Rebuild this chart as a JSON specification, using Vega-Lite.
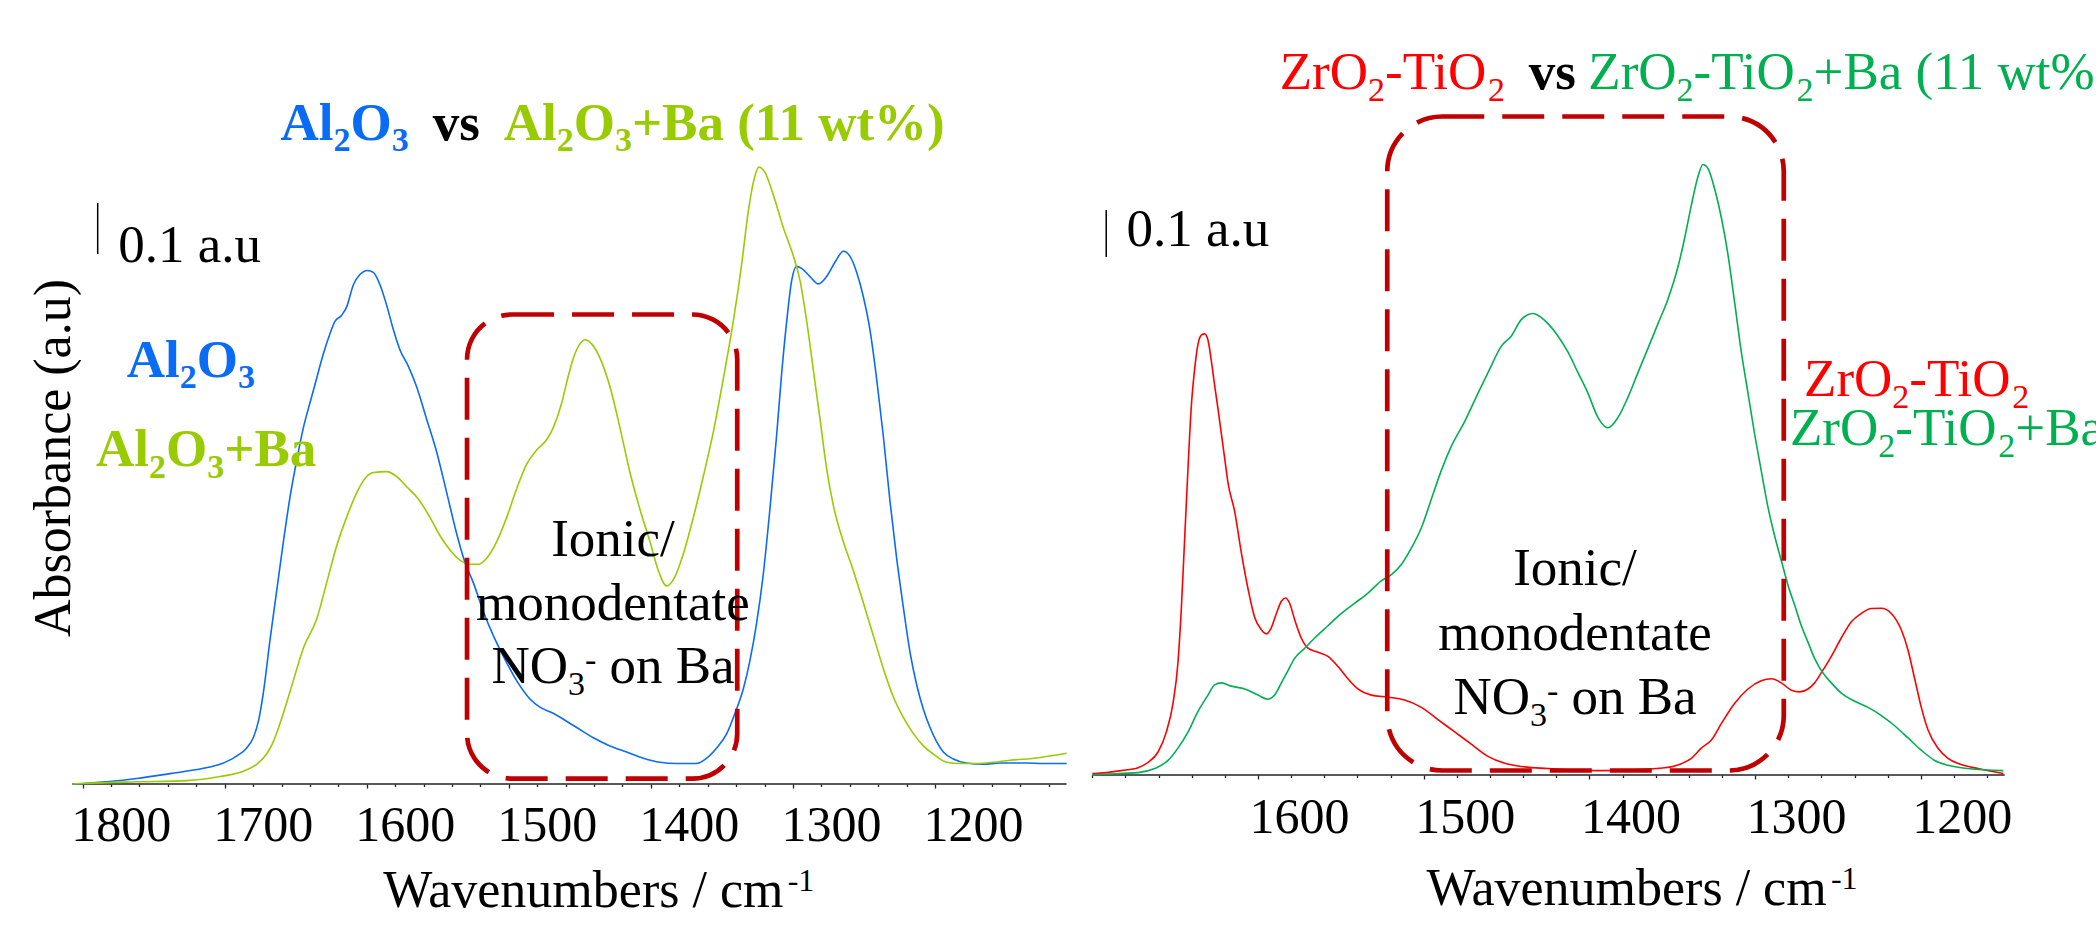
{
"$schema": "https://vega.github.io/schema/vega-lite/v6.json",
"padding": 0,
"autosize": {"type": "pad"},
"spacing": 0,
"background": "white",
"config": {"view": {"stroke": null}, "font": "Liberation Serif"},
"datasets": {
"curvesL": [
{"series":"Al2O3","w":1807,"a":0.0},{"series":"Al2O3","w":1799.5,"a":0.001},{"series":"Al2O3","w":1762.0,"a":0.0107},{"series":"Al2O3","w":1738.5,"a":0.0203},{"series":"Al2O3","w":1715.0,"a":0.0307},{"series":"Al2O3","w":1703.3,"a":0.0387},{"series":"Al2O3","w":1691.6,"a":0.0547},{"series":"Al2O3","w":1684.5,"a":0.0707},{"series":"Al2O3","w":1679.9,"a":0.0907},{"series":"Al2O3","w":1676.3,"a":0.1227},{"series":"Al2O3","w":1672.8,"a":0.1787},{"series":"Al2O3","w":1668.1,"a":0.2828},{"series":"Al2O3","w":1663.4,"a":0.3788},{"series":"Al2O3","w":1658.7,"a":0.4748},{"series":"Al2O3","w":1654.0,"a":0.5629},{"series":"Al2O3","w":1649.3,"a":0.6349},{"series":"Al2O3","w":1644.6,"a":0.6989},{"series":"Al2O3","w":1640.0,"a":0.7469},{"series":"Al2O3","w":1635.3,"a":0.7950},{"series":"Al2O3","w":1630.6,"a":0.8430},{"series":"Al2O3","w":1625.9,"a":0.8830},{"series":"Al2O3","w":1622.4,"a":0.9070},{"series":"Al2O3","w":1617.7,"a":0.9190},{"series":"Al2O3","w":1614.2,"a":0.9350},{"series":"Al2O3","w":1609.4,"a":0.9790},{"series":"Al2O3","w":1604.8,"a":0.9990},{"series":"Al2O3","w":1599.4,"a":1.0070},{"series":"Al2O3","w":1595.4,"a":1.0030},{"series":"Al2O3","w":1590.7,"a":0.9790},{"series":"Al2O3","w":1586.0,"a":0.9390},{"series":"Al2O3","w":1581.3,"a":0.8910},{"series":"Al2O3","w":1576.6,"a":0.8510},{"series":"Al2O3","w":1570.7,"a":0.8190},{"series":"Al2O3","w":1564.9,"a":0.7790},{"series":"Al2O3","w":1557.8,"a":0.7149},{"series":"Al2O3","w":1550.8,"a":0.6509},{"series":"Al2O3","w":1543.7,"a":0.5709},{"series":"Al2O3","w":1536.7,"a":0.4908},{"series":"Al2O3","w":1530.9,"a":0.4348},{"series":"Al2O3","w":1525.0,"a":0.3948},{"series":"Al2O3","w":1518.0,"a":0.3388},{"series":"Al2O3","w":1510.9,"a":0.2908},{"series":"Al2O3","w":1503.9,"a":0.2507},{"series":"Al2O3","w":1494.5,"a":0.2027},{"series":"Al2O3","w":1485.1,"a":0.1667},{"series":"Al2O3","w":1478.1,"a":0.1507},{"series":"Al2O3","w":1468.7,"a":0.1387},{"series":"Al2O3","w":1456.9,"a":0.1187},{"series":"Al2O3","w":1452.2,"a":0.1107},{"series":"Al2O3","w":1440.5,"a":0.0907},{"series":"Al2O3","w":1428.8,"a":0.0747},{"series":"Al2O3","w":1417.0,"a":0.0627},{"series":"Al2O3","w":1405.3,"a":0.0507},{"series":"Al2O3","w":1393.6,"a":0.0427},{"series":"Al2O3","w":1381.9,"a":0.0403},{"series":"Al2O3","w":1367.8,"a":0.0403},{"series":"Al2O3","w":1360.7,"a":0.0507},{"series":"Al2O3","w":1353.7,"a":0.0707},{"series":"Al2O3","w":1346.6,"a":0.0987},{"series":"Al2O3","w":1340.8,"a":0.1387},{"series":"Al2O3","w":1334.9,"a":0.1867},{"series":"Al2O3","w":1330.2,"a":0.2428},{"series":"Al2O3","w":1325.6,"a":0.3148},{"series":"Al2O3","w":1320.9,"a":0.4108},{"series":"Al2O3","w":1316.2,"a":0.5389},{"series":"Al2O3","w":1311.5,"a":0.6829},{"series":"Al2O3","w":1308.0,"a":0.8030},{"series":"Al2O3","w":1304.4,"a":0.9070},{"series":"Al2O3","w":1300.9,"a":0.9870},{"series":"Al2O3","w":1297.4,"a":1.0150},{"series":"Al2O3","w":1293.9,"a":1.0110},{"series":"Al2O3","w":1288.0,"a":0.9950},{"series":"Al2O3","w":1282.1,"a":0.9806},{"series":"Al2O3","w":1276.3,"a":0.9950},{"series":"Al2O3","w":1270.4,"a":1.0230},{"series":"Al2O3","w":1264.5,"a":1.0447},{"series":"Al2O3","w":1259.9,"a":1.0351},{"series":"Al2O3","w":1255.1,"a":1.0030},{"series":"Al2O3","w":1250.4,"a":0.9550},{"series":"Al2O3","w":1245.8,"a":0.8910},{"series":"Al2O3","w":1241.1,"a":0.7950},{"series":"Al2O3","w":1236.4,"a":0.6829},{"series":"Al2O3","w":1231.7,"a":0.5549},{"series":"Al2O3","w":1227.0,"a":0.4428},{"series":"Al2O3","w":1222.3,"a":0.3468},{"series":"Al2O3","w":1217.6,"a":0.2588},{"series":"Al2O3","w":1212.9,"a":0.1947},{"series":"Al2O3","w":1208.2,"a":0.1467},{"series":"Al2O3","w":1203.5,"a":0.1107},{"series":"Al2O3","w":1198.8,"a":0.0827},{"series":"Al2O3","w":1194.1,"a":0.0627},{"series":"Al2O3","w":1187.1,"a":0.0491},{"series":"Al2O3","w":1177.7,"a":0.0411},{"series":"Al2O3","w":1166.0,"a":0.0387},{"series":"Al2O3","w":1154.2,"a":0.0411},{"series":"Al2O3","w":1135.5,"a":0.0411},{"series":"Al2O3","w":1123.7,"a":0.0403},{"series":"Al2O3","w":1107.3,"a":0.0403},
{"series":"Al2O3+Ba","w":1807,"a":0.0},{"series":"Al2O3+Ba","w":1799.5,"a":0.001},{"series":"Al2O3+Ba","w":1762.0,"a":0.0043},{"series":"Al2O3+Ba","w":1726.8,"a":0.0067},{"series":"Al2O3+Ba","w":1703.3,"a":0.0147},{"series":"Al2O3+Ba","w":1686.9,"a":0.0251},{"series":"Al2O3+Ba","w":1677.5,"a":0.0387},{"series":"Al2O3+Ba","w":1670.5,"a":0.0587},{"series":"Al2O3+Ba","w":1665.8,"a":0.0827},{"series":"Al2O3+Ba","w":1658.7,"a":0.1387},{"series":"Al2O3+Ba","w":1651.7,"a":0.2027},{"series":"Al2O3+Ba","w":1644.6,"a":0.2668},{"series":"Al2O3+Ba","w":1635.3,"a":0.3228},{"series":"Al2O3+Ba","w":1628.2,"a":0.3948},{"series":"Al2O3+Ba","w":1621.2,"a":0.4668},{"series":"Al2O3+Ba","w":1614.2,"a":0.5228},{"series":"Al2O3+Ba","w":1607.1,"a":0.5709},{"series":"Al2O3+Ba","w":1600.1,"a":0.6029},{"series":"Al2O3+Ba","w":1595.4,"a":0.6109},{"series":"Al2O3+Ba","w":1586.0,"a":0.6125},{"series":"Al2O3+Ba","w":1578.9,"a":0.6029},{"series":"Al2O3+Ba","w":1571.9,"a":0.5829},{"series":"Al2O3+Ba","w":1563.7,"a":0.5589},{"series":"Al2O3+Ba","w":1555.5,"a":0.5228},{"series":"Al2O3+Ba","w":1548.4,"a":0.4868},{"series":"Al2O3+Ba","w":1541.4,"a":0.4588},{"series":"Al2O3+Ba","w":1534.4,"a":0.4388},{"series":"Al2O3+Ba","w":1527.3,"a":0.4308},{"series":"Al2O3+Ba","w":1521.5,"a":0.4308},{"series":"Al2O3+Ba","w":1515.6,"a":0.4428},{"series":"Al2O3+Ba","w":1508.6,"a":0.4748},{"series":"Al2O3+Ba","w":1501.5,"a":0.5228},{"series":"Al2O3+Ba","w":1494.5,"a":0.5789},{"series":"Al2O3+Ba","w":1487.5,"a":0.6269},{"series":"Al2O3+Ba","w":1480.4,"a":0.6549},{"series":"Al2O3+Ba","w":1473.4,"a":0.6749},{"series":"Al2O3+Ba","w":1468.7,"a":0.6989},{"series":"Al2O3+Ba","w":1462.8,"a":0.7469},{"series":"Al2O3+Ba","w":1459.3,"a":0.7870},{"series":"Al2O3+Ba","w":1454.6,"a":0.8350},{"series":"Al2O3+Ba","w":1449.9,"a":0.8630},{"series":"Al2O3+Ba","w":1446.4,"a":0.8710},{"series":"Al2O3+Ba","w":1441.7,"a":0.8630},{"series":"Al2O3+Ba","w":1435.8,"a":0.8350},{"series":"Al2O3+Ba","w":1428.8,"a":0.7790},{"series":"Al2O3+Ba","w":1421.8,"a":0.6989},{"series":"Al2O3+Ba","w":1414.7,"a":0.6109},{"series":"Al2O3+Ba","w":1407.7,"a":0.5389},{"series":"Al2O3+Ba","w":1400.6,"a":0.4748},{"series":"Al2O3+Ba","w":1394.8,"a":0.4188},{"series":"Al2O3+Ba","w":1388.9,"a":0.3884},{"series":"Al2O3+Ba","w":1383.0,"a":0.4068},{"series":"Al2O3+Ba","w":1377.2,"a":0.4508},{"series":"Al2O3+Ba","w":1370.1,"a":0.5228},{"series":"Al2O3+Ba","w":1363.1,"a":0.6029},{"series":"Al2O3+Ba","w":1356.0,"a":0.6909},{"series":"Al2O3+Ba","w":1349.0,"a":0.7950},{"series":"Al2O3+Ba","w":1342.0,"a":0.9070},{"series":"Al2O3+Ba","w":1336.1,"a":1.0191},{"series":"Al2O3+Ba","w":1331.4,"a":1.1231},{"series":"Al2O3+Ba","w":1327.9,"a":1.1791},{"series":"Al2O3+Ba","w":1323.9,"a":1.2095},{"series":"Al2O3+Ba","w":1319.7,"a":1.1991},{"series":"Al2O3+Ba","w":1313.8,"a":1.1551},{"series":"Al2O3+Ba","w":1306.8,"a":1.0911},{"series":"Al2O3+Ba","w":1299.7,"a":1.0351},{"series":"Al2O3+Ba","w":1295.0,"a":0.9870},{"series":"Al2O3+Ba","w":1290.3,"a":0.9070},{"series":"Al2O3+Ba","w":1285.6,"a":0.8110},{"series":"Al2O3+Ba","w":1280.9,"a":0.7149},{"series":"Al2O3+Ba","w":1276.3,"a":0.6189},{"series":"Al2O3+Ba","w":1271.6,"a":0.5469},{"series":"Al2O3+Ba","w":1264.5,"a":0.4748},{"series":"Al2O3+Ba","w":1257.5,"a":0.4188},{"series":"Al2O3+Ba","w":1250.4,"a":0.3548},{"series":"Al2O3+Ba","w":1243.4,"a":0.2908},{"series":"Al2O3+Ba","w":1236.4,"a":0.2267},{"series":"Al2O3+Ba","w":1229.3,"a":0.1707},{"series":"Al2O3+Ba","w":1222.3,"a":0.1307},{"series":"Al2O3+Ba","w":1215.2,"a":0.0987},{"series":"Al2O3+Ba","w":1208.2,"a":0.0747},{"series":"Al2O3+Ba","w":1201.2,"a":0.0587},{"series":"Al2O3+Ba","w":1191.8,"a":0.0427},{"series":"Al2O3+Ba","w":1182.4,"a":0.0403},{"series":"Al2O3+Ba","w":1170.7,"a":0.0403},{"series":"Al2O3+Ba","w":1158.9,"a":0.0427},{"series":"Al2O3+Ba","w":1147.2,"a":0.0467},{"series":"Al2O3+Ba","w":1135.5,"a":0.0491},{"series":"Al2O3+Ba","w":1123.7,"a":0.0531},{"series":"Al2O3+Ba","w":1107.3,"a":0.0603}
],
"curvesR": [
{"series":"ZrO2-TiO2","w":1700,"a":0.003},{"series":"ZrO2-TiO2","w":1698.6,"a":0.0032},{"series":"ZrO2-TiO2","w":1682.5,"a":0.0093},{"series":"ZrO2-TiO2","w":1672.4,"a":0.0154},{"series":"ZrO2-TiO2","w":1666.4,"a":0.0267},{"series":"ZrO2-TiO2","w":1660.4,"a":0.0484},{"series":"ZrO2-TiO2","w":1655.3,"a":0.0918},{"series":"ZrO2-TiO2","w":1651.3,"a":0.1526},{"series":"ZrO2-TiO2","w":1648.3,"a":0.2394},{"series":"ZrO2-TiO2","w":1646.3,"a":0.3523},{"series":"ZrO2-TiO2","w":1644.3,"a":0.4999},{"series":"ZrO2-TiO2","w":1642.2,"a":0.6563},{"series":"ZrO2-TiO2","w":1640.2,"a":0.7866},{"series":"ZrO2-TiO2","w":1638.2,"a":0.8647},{"series":"ZrO2-TiO2","w":1636.2,"a":0.9168},{"series":"ZrO2-TiO2","w":1634.2,"a":0.9359},{"series":"ZrO2-TiO2","w":1632.2,"a":0.9385},{"series":"ZrO2-TiO2","w":1630.2,"a":0.9255},{"series":"ZrO2-TiO2","w":1628.2,"a":0.8821},{"series":"ZrO2-TiO2","w":1626.2,"a":0.8300},{"series":"ZrO2-TiO2","w":1624.1,"a":0.7779},{"series":"ZrO2-TiO2","w":1622.1,"a":0.7257},{"series":"ZrO2-TiO2","w":1620.1,"a":0.6737},{"series":"ZrO2-TiO2","w":1618.1,"a":0.6216},{"series":"ZrO2-TiO2","w":1614.1,"a":0.5608},{"series":"ZrO2-TiO2","w":1610.1,"a":0.4739},{"series":"ZrO2-TiO2","w":1606.0,"a":0.3957},{"series":"ZrO2-TiO2","w":1602.0,"a":0.3350},{"series":"ZrO2-TiO2","w":1598.0,"a":0.3089},{"series":"ZrO2-TiO2","w":1595.0,"a":0.3002},{"series":"ZrO2-TiO2","w":1592.0,"a":0.3132},{"series":"ZrO2-TiO2","w":1588.9,"a":0.3437},{"series":"ZrO2-TiO2","w":1585.9,"a":0.3697},{"series":"ZrO2-TiO2","w":1583.5,"a":0.3767},{"series":"ZrO2-TiO2","w":1580.9,"a":0.3654},{"series":"ZrO2-TiO2","w":1577.9,"a":0.3307},{"series":"ZrO2-TiO2","w":1573.9,"a":0.2915},{"series":"ZrO2-TiO2","w":1569.8,"a":0.2698},{"series":"ZrO2-TiO2","w":1563.8,"a":0.2611},{"series":"ZrO2-TiO2","w":1557.8,"a":0.2525},{"series":"ZrO2-TiO2","w":1551.7,"a":0.2308},{"series":"ZrO2-TiO2","w":1545.7,"a":0.2047},{"series":"ZrO2-TiO2","w":1539.7,"a":0.1830},{"series":"ZrO2-TiO2","w":1531.6,"a":0.1700},{"series":"ZrO2-TiO2","w":1521.5,"a":0.1656},{"series":"ZrO2-TiO2","w":1511.5,"a":0.1595},{"series":"ZrO2-TiO2","w":1501.4,"a":0.1439},{"series":"ZrO2-TiO2","w":1491.4,"a":0.1178},{"series":"ZrO2-TiO2","w":1481.3,"a":0.0918},{"series":"ZrO2-TiO2","w":1471.3,"a":0.0657},{"series":"ZrO2-TiO2","w":1461.2,"a":0.0397},{"series":"ZrO2-TiO2","w":1451.1,"a":0.0249},{"series":"ZrO2-TiO2","w":1441.1,"a":0.0180},{"series":"ZrO2-TiO2","w":1425.0,"a":0.0137},{"series":"ZrO2-TiO2","w":1394.8,"a":0.0093},{"series":"ZrO2-TiO2","w":1374.7,"a":0.0111},{"series":"ZrO2-TiO2","w":1354.6,"a":0.0154},{"series":"ZrO2-TiO2","w":1344.5,"a":0.0241},{"series":"ZrO2-TiO2","w":1338.5,"a":0.0354},{"series":"ZrO2-TiO2","w":1332.5,"a":0.0571},{"series":"ZrO2-TiO2","w":1326.4,"a":0.0744},{"series":"ZrO2-TiO2","w":1320.4,"a":0.1092},{"series":"ZrO2-TiO2","w":1312.3,"a":0.1526},{"series":"ZrO2-TiO2","w":1304.3,"a":0.1830},{"series":"ZrO2-TiO2","w":1296.3,"a":0.2004},{"series":"ZrO2-TiO2","w":1290.2,"a":0.2047},{"series":"ZrO2-TiO2","w":1284.2,"a":0.1960},{"series":"ZrO2-TiO2","w":1278.1,"a":0.1804},{"series":"ZrO2-TiO2","w":1273.1,"a":0.1769},{"series":"ZrO2-TiO2","w":1268.1,"a":0.1830},{"series":"ZrO2-TiO2","w":1264.1,"a":0.1960},{"series":"ZrO2-TiO2","w":1260.0,"a":0.2177},{"series":"ZrO2-TiO2","w":1254.0,"a":0.2525},{"series":"ZrO2-TiO2","w":1248.0,"a":0.2915},{"series":"ZrO2-TiO2","w":1241.9,"a":0.3263},{"series":"ZrO2-TiO2","w":1235.9,"a":0.3437},{"series":"ZrO2-TiO2","w":1229.9,"a":0.3541},{"series":"ZrO2-TiO2","w":1223.8,"a":0.3549},{"series":"ZrO2-TiO2","w":1217.8,"a":0.3437},{"series":"ZrO2-TiO2","w":1211.8,"a":0.3089},{"series":"ZrO2-TiO2","w":1207.7,"a":0.2655},{"series":"ZrO2-TiO2","w":1203.7,"a":0.2047},{"series":"ZrO2-TiO2","w":1199.7,"a":0.1439},{"series":"ZrO2-TiO2","w":1195.7,"a":0.0961},{"series":"ZrO2-TiO2","w":1189.6,"a":0.0570},{"series":"ZrO2-TiO2","w":1183.6,"a":0.0354},{"series":"ZrO2-TiO2","w":1175.6,"a":0.0223},{"series":"ZrO2-TiO2","w":1165.5,"a":0.0137},{"series":"ZrO2-TiO2","w":1150.2,"a":0.0032},
{"series":"ZrO2-TiO2+Ba","w":1700,"a":0.0},{"series":"ZrO2-TiO2+Ba","w":1698.6,"a":0.0006},{"series":"ZrO2-TiO2+Ba","w":1672.4,"a":0.0050},{"series":"ZrO2-TiO2+Ba","w":1662.4,"a":0.0137},{"series":"ZrO2-TiO2+Ba","w":1654.3,"a":0.0310},{"series":"ZrO2-TiO2+Ba","w":1648.3,"a":0.0571},{"series":"ZrO2-TiO2+Ba","w":1642.2,"a":0.0918},{"series":"ZrO2-TiO2+Ba","w":1636.2,"a":0.1352},{"series":"ZrO2-TiO2+Ba","w":1630.2,"a":0.1700},{"series":"ZrO2-TiO2+Ba","w":1626.2,"a":0.1917},{"series":"ZrO2-TiO2+Ba","w":1622.1,"a":0.1960},{"series":"ZrO2-TiO2+Ba","w":1616.1,"a":0.1891},{"series":"ZrO2-TiO2+Ba","w":1608.0,"a":0.1830},{"series":"ZrO2-TiO2+Ba","w":1600.0,"a":0.1700},{"series":"ZrO2-TiO2+Ba","w":1594.0,"a":0.1613},{"series":"ZrO2-TiO2+Ba","w":1590.0,"a":0.1700},{"series":"ZrO2-TiO2+Ba","w":1585.9,"a":0.1960},{"series":"ZrO2-TiO2+Ba","w":1581.9,"a":0.2221},{"series":"ZrO2-TiO2+Ba","w":1577.9,"a":0.2481},{"series":"ZrO2-TiO2+Ba","w":1571.8,"a":0.2698},{"series":"ZrO2-TiO2+Ba","w":1565.8,"a":0.2915},{"series":"ZrO2-TiO2+Ba","w":1557.8,"a":0.3176},{"series":"ZrO2-TiO2+Ba","w":1549.7,"a":0.3437},{"series":"ZrO2-TiO2+Ba","w":1541.7,"a":0.3654},{"series":"ZrO2-TiO2+Ba","w":1533.6,"a":0.3871},{"series":"ZrO2-TiO2+Ba","w":1525.6,"a":0.4131},{"series":"ZrO2-TiO2+Ba","w":1519.5,"a":0.4261},{"series":"ZrO2-TiO2+Ba","w":1513.5,"a":0.4478},{"series":"ZrO2-TiO2+Ba","w":1507.5,"a":0.4826},{"series":"ZrO2-TiO2+Ba","w":1501.4,"a":0.5260},{"series":"ZrO2-TiO2+Ba","w":1495.4,"a":0.5868},{"series":"ZrO2-TiO2+Ba","w":1489.4,"a":0.6476},{"series":"ZrO2-TiO2+Ba","w":1483.3,"a":0.6997},{"series":"ZrO2-TiO2+Ba","w":1475.3,"a":0.7518},{"series":"ZrO2-TiO2+Ba","w":1467.2,"a":0.8126},{"series":"ZrO2-TiO2+Ba","w":1461.2,"a":0.8561},{"series":"ZrO2-TiO2+Ba","w":1453.1,"a":0.9125},{"series":"ZrO2-TiO2+Ba","w":1447.1,"a":0.9342},{"series":"ZrO2-TiO2+Ba","w":1441.1,"a":0.9689},{"series":"ZrO2-TiO2+Ba","w":1434.0,"a":0.9820},{"series":"ZrO2-TiO2+Ba","w":1429.0,"a":0.9733},{"series":"ZrO2-TiO2+Ba","w":1425.0,"a":0.9603},{"series":"ZrO2-TiO2+Ba","w":1419.0,"a":0.9342},{"series":"ZrO2-TiO2+Ba","w":1412.9,"a":0.8995},{"series":"ZrO2-TiO2+Ba","w":1406.9,"a":0.8561},{"series":"ZrO2-TiO2+Ba","w":1400.9,"a":0.8126},{"series":"ZrO2-TiO2+Ba","w":1394.8,"a":0.7605},{"series":"ZrO2-TiO2+Ba","w":1388.8,"a":0.7388},{"series":"ZrO2-TiO2+Ba","w":1382.8,"a":0.7605},{"series":"ZrO2-TiO2+Ba","w":1376.7,"a":0.8039},{"series":"ZrO2-TiO2+Ba","w":1370.7,"a":0.8561},{"series":"ZrO2-TiO2+Ba","w":1364.6,"a":0.9082},{"series":"ZrO2-TiO2+Ba","w":1358.6,"a":0.9603},{"series":"ZrO2-TiO2+Ba","w":1352.6,"a":1.0124},{"series":"ZrO2-TiO2+Ba","w":1346.5,"a":1.0818},{"series":"ZrO2-TiO2+Ba","w":1342.5,"a":1.1426},{"series":"ZrO2-TiO2+Ba","w":1338.5,"a":1.2121},{"series":"ZrO2-TiO2+Ba","w":1334.5,"a":1.2729},{"series":"ZrO2-TiO2+Ba","w":1331.5,"a":1.2990},{"series":"ZrO2-TiO2+Ba","w":1328.4,"a":1.2903},{"series":"ZrO2-TiO2+Ba","w":1324.4,"a":1.2468},{"series":"ZrO2-TiO2+Ba","w":1320.4,"a":1.1861},{"series":"ZrO2-TiO2+Ba","w":1316.4,"a":1.1079},{"series":"ZrO2-TiO2+Ba","w":1312.3,"a":1.0038},{"series":"ZrO2-TiO2+Ba","w":1308.3,"a":0.8995},{"series":"ZrO2-TiO2+Ba","w":1304.3,"a":0.8126},{"series":"ZrO2-TiO2+Ba","w":1300.3,"a":0.7257},{"series":"ZrO2-TiO2+Ba","w":1296.3,"a":0.6476},{"series":"ZrO2-TiO2+Ba","w":1292.2,"a":0.5694},{"series":"ZrO2-TiO2+Ba","w":1288.2,"a":0.5086},{"series":"ZrO2-TiO2+Ba","w":1284.2,"a":0.4565},{"series":"ZrO2-TiO2+Ba","w":1280.2,"a":0.4044},{"series":"ZrO2-TiO2+Ba","w":1276.1,"a":0.3610},{"series":"ZrO2-TiO2+Ba","w":1272.1,"a":0.3176},{"series":"ZrO2-TiO2+Ba","w":1268.1,"a":0.2828},{"series":"ZrO2-TiO2+Ba","w":1264.1,"a":0.2481},{"series":"ZrO2-TiO2+Ba","w":1260.0,"a":0.2221},{"series":"ZrO2-TiO2+Ba","w":1254.0,"a":0.1960},{"series":"ZrO2-TiO2+Ba","w":1248.0,"a":0.1743},{"series":"ZrO2-TiO2+Ba","w":1239.9,"a":0.1569},{"series":"ZrO2-TiO2+Ba","w":1231.9,"a":0.1439},{"series":"ZrO2-TiO2+Ba","w":1223.8,"a":0.1265},{"series":"ZrO2-TiO2+Ba","w":1215.8,"a":0.1048},{"series":"ZrO2-TiO2+Ba","w":1207.7,"a":0.0788},{"series":"ZrO2-TiO2+Ba","w":1199.7,"a":0.0527},{"series":"ZrO2-TiO2+Ba","w":1191.6,"a":0.0310},{"series":"ZrO2-TiO2+Ba","w":1183.6,"a":0.0206},{"series":"ZrO2-TiO2+Ba","w":1171.5,"a":0.0137},{"series":"ZrO2-TiO2+Ba","w":1150.2,"a":0.0093}
],
"baseL": [{"w":1807.3,"w2":1107.4,"a":0}],
"baseR": [{"w":1700,"w2":1149.4,"a":0}],
"barL": [{"w":1789.4,"a":1.1392,"a2":1.0392}],
"barR": [{"w":1691.6,"a":1.2021,"a2":1.1021}],
"boxL": [{"w":1529.4,"w2":1339.2,"a":0.9206,"a2":0.0106}],
"boxR": [{"w":1522.0,"w2":1282.7,"a":1.4011,"a2":0.0096}],
"boldL": [
{"series":"Al2O3","text":"Al","w":1660.65,"a":1.2627},{"series":"Al2O3","text":"O","w":1611.38,"a":1.2627},
{"series":"note","text":"vs","w":1553.58,"a":1.2627},
{"series":"Al2O3+Ba","text":"Al","w":1503.60,"a":1.2627},{"series":"Al2O3+Ba","text":"O","w":1454.33,"a":1.2627},{"series":"Al2O3+Ba","text":"+Ba (11 wt%)","w":1413.36,"a":1.2627},
{"series":"Al2O3","text":"Al","w":1768.98,"a":0.7990},{"series":"Al2O3","text":"O","w":1719.71,"a":0.7990},
{"series":"Al2O3+Ba","text":"Al","w":1790.60,"a":0.6235},{"series":"Al2O3+Ba","text":"O","w":1741.32,"a":0.6235},{"series":"Al2O3+Ba","text":"+Ba","w":1700.35,"a":0.6235}
],
"boldSubL": [
{"series":"Al2O3","text":"2","w":1623.34,"a":1.2412},{"series":"Al2O3","text":"3","w":1582.37,"a":1.2412},
{"series":"Al2O3+Ba","text":"2","w":1466.30,"a":1.2412},{"series":"Al2O3+Ba","text":"3","w":1425.33,"a":1.2412},
{"series":"Al2O3","text":"2","w":1731.68,"a":0.7755},{"series":"Al2O3","text":"3","w":1690.71,"a":0.7755},
{"series":"Al2O3+Ba","text":"2","w":1753.29,"a":0.6000},{"series":"Al2O3+Ba","text":"3","w":1712.32,"a":0.6000}
],
"regL": [
{"series":"note","text":"0.1 a.u","w":1774.90,"a":1.0235},
{"series":"note","text":"NO","w":1512.26,"a":0.1980},{"series":"note","text":"on Ba","w":1429.13,"a":0.1980}
],
"regCL": [
{"series":"note","text":"Ionic/","w":1426.67,"a":0.4471},{"series":"note","text":"monodentate","w":1426.67,"a":0.3216}
],
"smallL": [
{"series":"note","text":"3","w":1458.41,"a":0.1745},{"series":"note","text":"-","w":1446.44,"a":0.2225}
],
"axisL": [{"series":"note","text":"Wavenumbers / cm","w":1588.36,"a":-0.2406}],
"axisSupL": [{"series":"note","text":"-1","w":1303.69,"a":-0.2098}],
"vtitle": [{"series":"note","text":"Absorbance (a.u)","w":1808.9,"a":0.6392}],
"regR": [
{"series":"ZrO2-TiO2","text":"ZrO","w":1586.90,"a":1.4602},{"series":"ZrO2-TiO2","text":"-TiO","w":1523.36,"a":1.4602},
{"series":"ZrO2-TiO2+Ba","text":"ZrO","w":1400.66,"a":1.4602},{"series":"ZrO2-TiO2+Ba","text":"-TiO","w":1337.12,"a":1.4602},
{"series":"ZrO2-TiO2","text":"ZrO","w":1270.49,"a":0.8074},{"series":"ZrO2-TiO2","text":"-TiO","w":1206.94,"a":0.8074},
{"series":"ZrO2-TiO2+Ba","text":"ZrO","w":1278.94,"a":0.7021},{"series":"ZrO2-TiO2+Ba","text":"-TiO","w":1215.39,"a":0.7021},
{"series":"note","text":"0.1 a.u","w":1679.42,"a":1.1245},
{"series":"note","text":"NO","w":1482.08,"a":0.1294},{"series":"note","text":"on Ba","w":1410.80,"a":0.1294}
],
"regClipR": [
{"series":"ZrO2-TiO2+Ba","text":"+Ba (11 wt%)","w":1264.70,"a":1.4602},
{"series":"ZrO2-TiO2+Ba","text":"+Ba","w":1142.97,"a":0.7021}
],
"subR": [
{"series":"ZrO2-TiO2","text":"2","w":1533.61,"a":1.4347},{"series":"ZrO2-TiO2","text":"2","w":1461.20,"a":1.4347},
{"series":"ZrO2-TiO2+Ba","text":"2","w":1347.38,"a":1.4347},{"series":"ZrO2-TiO2+Ba","text":"2","w":1274.96,"a":1.4347},
{"series":"ZrO2-TiO2","text":"2","w":1217.20,"a":0.7819},{"series":"ZrO2-TiO2","text":"2","w":1144.78,"a":0.7819},
{"series":"ZrO2-TiO2+Ba","text":"2","w":1225.65,"a":0.6766},{"series":"ZrO2-TiO2+Ba","text":"2","w":1153.23,"a":0.6766},
{"series":"note","text":"3","w":1435.91,"a":0.1038},{"series":"note","text":"-","w":1425.65,"a":0.1560}
],
"boldR": [{"series":"note","text":"vs","w":1436.57,"a":1.4602}],
"regCR": [
{"series":"note","text":"Ionic/","w":1408.69,"a":0.4036},{"series":"note","text":"monodentate","w":1408.69,"a":0.2653}
],
"axisR": [{"series":"note","text":"Wavenumbers / cm","w":1498.31,"a":-0.2766}],
"axisSupR": [{"series":"note","text":"-1","w":1254.25,"a":-0.2426}]
},
"hconcat": [
{
"width": 1089, "height": 784,
"encoding": {
"x": {"field": "w", "type": "quantitative", "scale": {"domain": [1091.59, 1858.17], "reverse": true, "nice": false, "zero": false},
"axis": {"values": [1800,1780,1760,1740,1720,1700,1680,1660,1640,1620,1600,1580,1560,1540,1520,1500,1480,1460,1440,1420,1400,1380,1360,1340,1320,1300,1280,1260,1240,1220,1200,1180,1160,1140,1120],
"title": null, "domain": false, "grid": false, "format": "d",
"labelExpr": "datum.value % 100 === 0 ? datum.label : ''",
"tickColor": "#222222", "tickWidth": 1.3,
"tickSize": {"condition": {"test": "datum.value % 100 === 0", "value": 4}, "value": 2.5},
"labelFont": "Liberation Serif", "labelFontSize": 50, "labelColor": "#000000", "labelOffset": 38, "labelPadding": 12,
"labelOverlap": false, "labelFlush": false, "labelBound": false}},
"y": {"field": "a", "type": "quantitative", "scale": {"domain": [0, 1.53725], "nice": false, "zero": false}, "axis": null}
},
"layer": [
{"data": {"name": "baseL"}, "mark": {"type": "rule", "color": "#222222", "strokeWidth": 1.5}, "encoding": {"x2": {"field": "w2"}}},
{"data": {"name": "curvesL"}, "mark": {"type": "line", "strokeWidth": 1.6, "interpolate": "monotone"},
 "encoding": {"color": {"field": "series", "type": "nominal", "scale": {"domain": ["Al2O3","Al2O3+Ba","ZrO2-TiO2","ZrO2-TiO2+Ba","note"], "range": ["#0A6CF5","#99CC00","#FF0000","#00B050","#000000"]}, "legend": null}}},
{"data": {"name": "boxL"}, "mark": {"type": "rect", "fill": "transparent", "stroke": "#C00000", "strokeWidth": 4.7, "strokeDash": [42, 18], "cornerRadius": 45},
 "encoding": {"x2": {"field": "w2"}, "y2": {"field": "a2"}}},
{"data": {"name": "barL"}, "mark": {"type": "rule", "color": "#000000", "strokeWidth": 1.5}, "encoding": {"y2": {"field": "a2"}}},
{"data": {"name": "boldL"}, "mark": {"type": "text", "align": "left", "baseline": "alphabetic", "font": "Liberation Serif", "fontSize": 53, "fontWeight": "bold"},
 "encoding": {"text": {"field": "text"}, "color": {"field": "series", "type": "nominal", "scale": {"domain": ["Al2O3","Al2O3+Ba","ZrO2-TiO2","ZrO2-TiO2+Ba","note"], "range": ["#0A6CF5","#99CC00","#FF0000","#00B050","#000000"]}, "legend": null}}},
{"data": {"name": "boldSubL"}, "mark": {"type": "text", "align": "left", "baseline": "alphabetic", "font": "Liberation Serif", "fontSize": 34, "fontWeight": "bold"},
 "encoding": {"text": {"field": "text"}, "color": {"field": "series", "type": "nominal", "scale": {"domain": ["Al2O3","Al2O3+Ba","ZrO2-TiO2","ZrO2-TiO2+Ba","note"], "range": ["#0A6CF5","#99CC00","#FF0000","#00B050","#000000"]}, "legend": null}}},
{"data": {"name": "regL"}, "mark": {"type": "text", "align": "left", "baseline": "alphabetic", "font": "Liberation Serif", "fontSize": 53, "color": "#000000"},
 "encoding": {"text": {"field": "text"}}},
{"data": {"name": "regCL"}, "mark": {"type": "text", "align": "center", "baseline": "alphabetic", "font": "Liberation Serif", "fontSize": 53, "color": "#000000"},
 "encoding": {"text": {"field": "text"}}},
{"data": {"name": "smallL"}, "mark": {"type": "text", "align": "left", "baseline": "alphabetic", "font": "Liberation Serif", "fontSize": 34, "color": "#000000"},
 "encoding": {"text": {"field": "text"}}},
{"data": {"name": "axisL"}, "mark": {"type": "text", "align": "left", "baseline": "alphabetic", "font": "Liberation Serif", "fontSize": 52, "color": "#000000"},
 "encoding": {"text": {"field": "text"}}},
{"data": {"name": "axisSupL"}, "mark": {"type": "text", "align": "left", "baseline": "alphabetic", "font": "Liberation Serif", "fontSize": 32, "color": "#000000"},
 "encoding": {"text": {"field": "text"}}},
{"data": {"name": "vtitle"}, "mark": {"type": "text", "align": "center", "baseline": "alphabetic", "angle": 270, "font": "Liberation Serif", "fontSize": 52, "color": "#000000"},
 "encoding": {"text": {"field": "text"}}}
]
},
{
"width": 1007, "height": 775,
"encoding": {
"x": {"field": "w", "type": "quantitative", "scale": {"domain": [1092.46, 1700.18], "reverse": true, "nice": false, "zero": false},
"axis": {"values": [1700,1680,1660,1640,1620,1600,1580,1560,1540,1520,1500,1480,1460,1440,1420,1400,1380,1360,1340,1320,1300,1280,1260,1240,1220,1200,1180,1160],
"title": null, "domain": false, "grid": false, "format": "d",
"labelExpr": "datum.value % 100 === 0 && datum.value < 1700 ? datum.label : ''",
"tickColor": "#222222", "tickWidth": 1.3,
"tickSize": {"condition": {"test": "datum.value % 100 === 0 && datum.value < 1700", "value": 4}, "value": 2.5},
"labelFont": "Liberation Serif", "labelFontSize": 50, "labelColor": "#000000", "labelOffset": 41, "labelPadding": 13,
"labelOverlap": false, "labelFlush": false, "labelBound": false}},
"y": {"field": "a", "type": "quantitative", "scale": {"domain": [0, 1.64894], "nice": false, "zero": false}, "axis": null}
},
"layer": [
{"data": {"name": "baseR"}, "mark": {"type": "rule", "color": "#222222", "strokeWidth": 1.5}, "encoding": {"x2": {"field": "w2"}}},
{"data": {"name": "curvesR"}, "mark": {"type": "line", "strokeWidth": 1.6, "interpolate": "monotone"},
 "encoding": {"color": {"field": "series", "type": "nominal", "scale": {"domain": ["Al2O3","Al2O3+Ba","ZrO2-TiO2","ZrO2-TiO2+Ba","note"], "range": ["#0A6CF5","#99CC00","#FF0000","#00B050","#000000"]}, "legend": null}}},
{"data": {"name": "boxR"}, "mark": {"type": "rect", "fill": "transparent", "stroke": "#C00000", "strokeWidth": 4.7, "strokeDash": [42, 18], "cornerRadius": 55},
 "encoding": {"x2": {"field": "w2"}, "y2": {"field": "a2"}}},
{"data": {"name": "barR"}, "mark": {"type": "rule", "color": "#000000", "strokeWidth": 1.5}, "encoding": {"y2": {"field": "a2"}}},
{"data": {"name": "regR"}, "mark": {"type": "text", "align": "left", "baseline": "alphabetic", "font": "Liberation Serif", "fontSize": 53},
 "encoding": {"text": {"field": "text"}, "color": {"field": "series", "type": "nominal", "scale": {"domain": ["Al2O3","Al2O3+Ba","ZrO2-TiO2","ZrO2-TiO2+Ba","note"], "range": ["#0A6CF5","#99CC00","#FF0000","#00B050","#000000"]}, "legend": null}}},
{"data": {"name": "regClipR"}, "mark": {"type": "text", "align": "left", "baseline": "alphabetic", "font": "Liberation Serif", "fontSize": 53, "clip": true},
 "encoding": {"text": {"field": "text"}, "color": {"field": "series", "type": "nominal", "scale": {"domain": ["Al2O3","Al2O3+Ba","ZrO2-TiO2","ZrO2-TiO2+Ba","note"], "range": ["#0A6CF5","#99CC00","#FF0000","#00B050","#000000"]}, "legend": null}}},
{"data": {"name": "subR"}, "mark": {"type": "text", "align": "left", "baseline": "alphabetic", "font": "Liberation Serif", "fontSize": 34},
 "encoding": {"text": {"field": "text"}, "color": {"field": "series", "type": "nominal", "scale": {"domain": ["Al2O3","Al2O3+Ba","ZrO2-TiO2","ZrO2-TiO2+Ba","note"], "range": ["#0A6CF5","#99CC00","#FF0000","#00B050","#000000"]}, "legend": null}}},
{"data": {"name": "boldR"}, "mark": {"type": "text", "align": "left", "baseline": "alphabetic", "font": "Liberation Serif", "fontSize": 53, "fontWeight": "bold", "color": "#000000"},
 "encoding": {"text": {"field": "text"}}},
{"data": {"name": "regCR"}, "mark": {"type": "text", "align": "center", "baseline": "alphabetic", "font": "Liberation Serif", "fontSize": 53, "color": "#000000"},
 "encoding": {"text": {"field": "text"}}},
{"data": {"name": "axisR"}, "mark": {"type": "text", "align": "left", "baseline": "alphabetic", "font": "Liberation Serif", "fontSize": 52, "color": "#000000"},
 "encoding": {"text": {"field": "text"}}},
{"data": {"name": "axisSupR"}, "mark": {"type": "text", "align": "left", "baseline": "alphabetic", "font": "Liberation Serif", "fontSize": 32, "color": "#000000"},
 "encoding": {"text": {"field": "text"}}}
]
}
]
}
